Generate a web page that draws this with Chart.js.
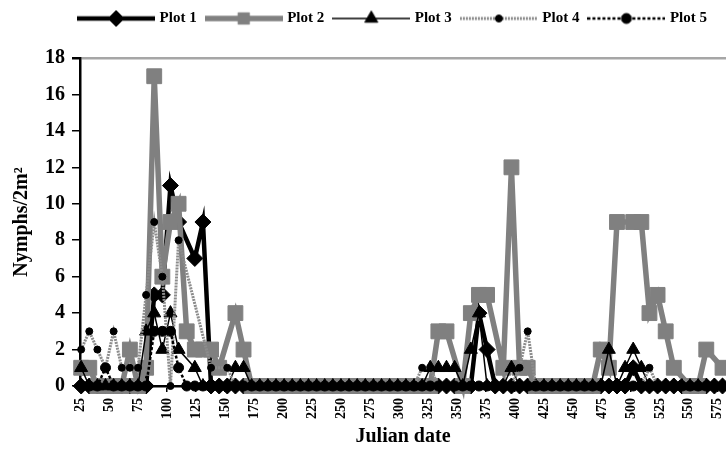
<!DOCTYPE html>
<html>
<head>
<meta charset="utf-8">
<script src="https://cdn.jsdelivr.net/npm/chart.js@4"></script>
<style>
    html, body { margin: 0; padding: 0; background: #fff; }
    #wrap { width: 726px; height: 452px; }
</style>
</head>
<body>
<div id="wrap"><canvas id="chart" width="726" height="452"></canvas></div>
<script>
// sampling dates (Julian), roughly weekly
const dates = [
    26, 33, 40, 47, 54, 61, 68, 75, 82, 89,
    96, 103, 110, 117, 124, 131, 138, 145, 152, 159,
    166, 173, 180, 187, 194, 201, 208, 215, 222, 229,
    236, 243, 250, 257, 264, 271, 278, 285, 292, 299,
    306, 313, 320, 327, 334, 341, 348, 355, 362, 369,
    376, 383, 390, 397, 404, 411, 418, 425, 432, 439,
    446, 453, 460, 467, 474, 481, 488, 495, 502, 509,
    516, 523, 530, 537, 544, 551, 558, 565, 572, 579
];

const plot1 = [
    0, 0, 0, 0, 0, 0, 0, 0, 0, 5,
    5, 11, 9, null, 7, 9, 0, 0, 0, 0,
    0, 0, 0, 0, 0, 0, 0, 0, 0, 0,
    0, 0, 0, 0, 0, 0, 0, 0, 0, 0,
    0, 0, 0, 0, 0, 0, 0, 0, 0, 4,
    2, 0, 0, 0, 0, 0, 0, 0, 0, 0,
    0, 0, 0, 0, 0, 0, 0, 0, 1, 0,
    0, 0, 0, 0, 0, 0, 0, 0, 0, 0
];
const plot2 = [
    1, 1, 0, 0, 0, 0, 2, 0, 1, 17,
    6, 9, 10, 3, 2, 2, 2, 1, null, 4,
    2, 0, 0, 0, 0, 0, 0, 0, 0, 0,
    0, 0, 0, 0, 0, 0, 0, 0, 0, 0,
    0, 0, 0, 0, 3, 3, null, 0, 4, 5,
    5, null, 1, 12, 1, 1, 0, 0, 0, 0,
    0, 0, 0, 0, 2, 1, 9, null, 9, 9,
    4, 5, 3, 1, null, 0, 0, 2, null, 1
];
const plot3 = [
    1, 0, 0, 0, 0, 0, 0, 0, 3, 4,
    2, 4, 2, null, 1, 0, 0, 0, 0, 1,
    1, 0, 0, 0, 0, 0, 0, 0, 0, 0,
    0, 0, 0, 0, 0, 0, 0, 0, 0, 0,
    0, 0, 0, 1, 1, 1, 1, 0, 2, 4,
    0, 0, 0, 1, 0, 0, 0, 0, 0, 0,
    0, 0, 0, 0, 0, 2, 0, 1, 2, 1,
    0, 0, 0, 0, 0, 0, 0, 0, 0, 0
];
const plot4 = [
    2, 3, 2, 1, 3, 1, 1, 1, 5, 9,
    6, 0, 8, null, null, null, 1, null, 1, 0,
    0, 0, 0, 0, 0, 0, 0, 0, 0, 0,
    0, 0, 0, 0, 0, 0, 0, 0, 0, 0,
    0, 0, 1, 1, 0, 0, 0, 0, 0, 0,
    0, 0, 0, 0, 1, 3, 0, 0, 0, 0,
    0, 0, 0, 0, 0, 0, 0, 0, 0, 0,
    1, 0, 0, 0, 0, 0, 0, 0, 0, 0
];
const plot5 = [
    0, 0, 0, 1, 0, 0, 0, 0, 0, 3,
    3, 3, 1, 0, 0, 0, 0, 0, 0, 0,
    0, 0, 0, 0, 0, 0, 0, 0, 0, 0,
    0, 0, 0, 0, 0, 0, 0, 0, 0, 0,
    0, 0, 0, 0, 0, 0, 0, 0, 0, 0,
    0, 0, 0, 0, 0, 0, 0, 0, 0, 0,
    0, 0, 0, 0, 0, 0, 0, 0, 0, 0,
    0, 0, 0, 0, 0, 0, 0, 0, 0, 0
];
const seriesNames = ["Plot 1", "Plot 2", "Plot 3", "Plot 4", "Plot 5"];
const yTicks = [0, 2, 4, 6, 8, 10, 12, 14, 16, 18];

const SERIF = "'Liberation Serif', 'Times New Roman', serif";

function pts(vals) {
    return dates.map((d, i) => ({ x: d, y: vals[i] }));
}

const styles = [
    { color: "#000", width: 4.5, dash: [], point: "rectRot", r: 8, fill: "#000" },
    { color: "#808080", width: 5.5, dash: [], point: "rect", r: 10.5, fill: "#808080" },
    { color: "#000", width: 1.5, dash: [], point: "triangle", r: 7.5, fill: "#000" },
    { color: "#8c8c8c", width: 3, dash: [2, 1], point: "circle", r: 3.5, fill: "#000" },
    { color: "#000", width: 2.5, dash: [3, 2], point: "circle", r: 5, fill: "#000" }
];
const allValues = [plot1, plot2, plot3, plot4, plot5];

// legend icons: line sample with the marker in the middle
function makeIcon(s) {
    const c = document.createElement("canvas");
    c.width = 78;
    c.height = 20;
    const g = c.getContext("2d");
    g.strokeStyle = s.color;
    g.lineWidth = s.width;
    g.setLineDash(s.dash);
    g.beginPath();
    g.moveTo(0, 10);
    g.lineTo(78, 10);
    g.stroke();
    g.setLineDash([]);
    g.fillStyle = s.fill;
    g.strokeStyle = s.fill;
    g.lineWidth = 1;
    Chart.helpers.drawPoint(g, { pointStyle: s.point, radius: Math.min(s.r, 8), borderWidth: 1, rotation: 0 }, 39, 10);
    return c;
}
const icons = styles.map(makeIcon);

const datasets = seriesNames.map((name, i) => ({
    label: name,
    data: pts(allValues[i]),
    borderColor: styles[i].color,
    borderWidth: styles[i].width,
    borderDash: styles[i].dash,
    pointStyle: styles[i].point,
    pointRadius: styles[i].r,
    pointBackgroundColor: styles[i].fill,
    pointBorderColor: styles[i].fill,
    pointBorderWidth: 1,
    tension: 0,
    spanGaps: true,
    clip: false,
    order: 4 - i
}));

// nudge the legend row a little to the left, like the original
const legendNudge = {
    id: "legendNudge",
    afterLayout(chart) {
        if (chart.legend) chart.legend.right -= 8;
    }
};

new Chart(document.getElementById("chart"), {
    type: "line",
    data: { datasets: datasets },
    plugins: [legendNudge],
    options: {
        responsive: false,
        animation: false,
        events: [],
        layout: { autoPadding: false, padding: 0 },
        plugins: {
            legend: {
                weight: 3000,
                align: "end",
                labels: {
                    usePointStyle: true,
                    pointStyleWidth: 72,
                    padding: 11,
                    color: "#000",
                    font: { family: SERIF, size: 15, weight: "bold" },
                    generateLabels: chart => chart.data.datasets.map((ds, i) => ({
                        text: ds.label,
                        pointStyle: icons[i],
                        datasetIndex: i,
                        fillStyle: "#000",
                        strokeStyle: "#000",
                        lineWidth: 0,
                        hidden: false,
                        fontColor: "#000"
                    }))
                }
            },
            // spacer between legend and plot
            title: {
                display: true,
                text: "",
                padding: { top: 21, bottom: 0 },
                font: { size: 1, lineHeight: 1 }
            },
            tooltip: { enabled: false }
        },
        scales: {
            x: {
                type: "linear",
                min: 25,
                max: 582,
                afterFit: s => { s.height = 66; s.paddingRight = 0; s.paddingLeft = 0; },
                afterBuildTicks: s => { s.ticks = s.ticks.filter(t => t.value % 25 === 0); },
                ticks: {
                    stepSize: 25,
                    includeBounds: false,
                    minRotation: 90,
                    maxRotation: 90,
                    padding: 6,
                    color: "#000",
                    font: { family: SERIF, size: 14, weight: "bold" }
                },
                grid: { drawOnChartArea: false, tickLength: 6, color: "#000", lineWidth: 1.5 },
                border: { color: "#000", width: 2.5 },
                title: {
                    display: true,
                    text: "Julian date",
                    color: "#000",
                    padding: { top: 0, bottom: 3 },
                    font: { family: SERIF, size: 20, weight: "bold" }
                }
            },
            y: {
                min: 0,
                max: 18,
                afterFit: s => { s.width = 80; },
                afterBuildTicks: s => { s.ticks = yTicks.map(v => ({ value: v })); },
                ticks: {
                    stepSize: 2,
                    padding: 7,
                    color: "#000",
                    font: { family: SERIF, size: 20, weight: "bold" }
                },
                grid: {
                    drawOnChartArea: true,
                    color: c => (c.tick && c.tick.value === 18 ? "#a6a6a6" : "rgba(0,0,0,0)"),
                    tickColor: "#000",
                    tickLength: 8,
                    lineWidth: c => (c.tick && c.tick.value === 18 ? 2.5 : 1.5)
                },
                border: { color: "#000", width: 2.5 },
                title: {
                    display: true,
                    text: "Nymphs/2m²",
                    color: "#000",
                    padding: { top: 10, bottom: 0 },
                    font: { family: SERIF, size: 20, weight: "bold" }
                }
            }
        }
    }
});
</script>
</body>
</html>
